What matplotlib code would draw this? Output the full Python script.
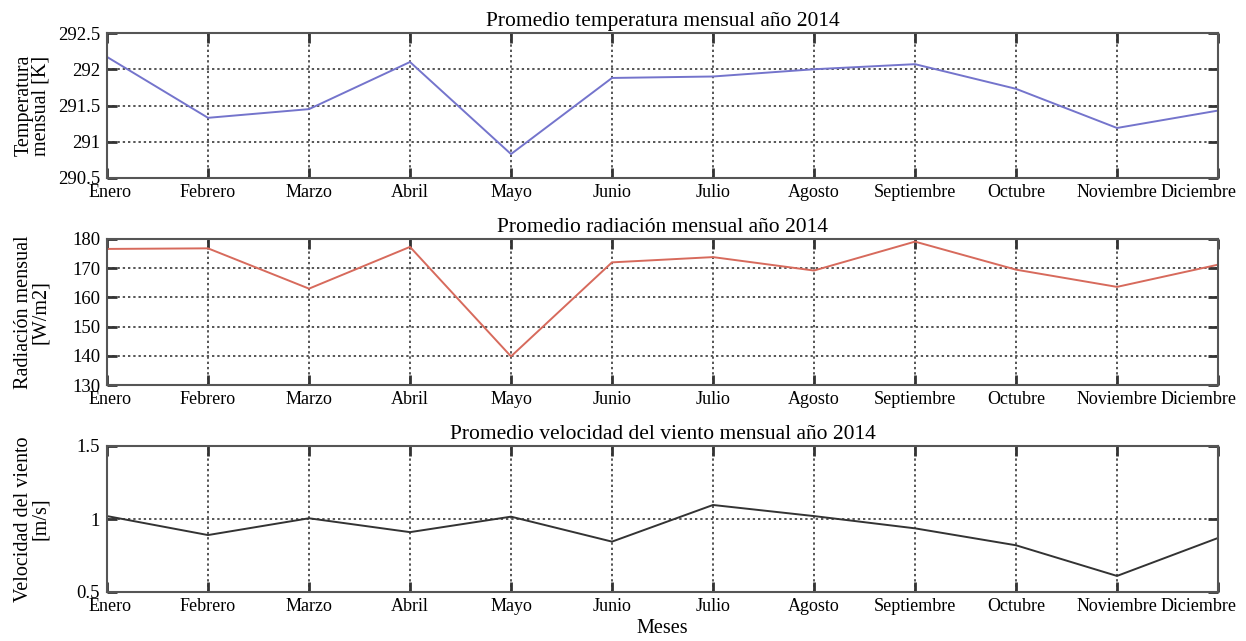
import matplotlib.pyplot as plt
from matplotlib.transforms import ScaledTranslation

plt.rcParams['font.family'] = ['Liberation Serif', 'DejaVu Serif']

meses = ['Enero', 'Febrero', 'Marzo', 'Abril', 'Mayo', 'Junio', 'Julio',
         'Agosto', 'Septiembre', 'Octubre', 'Noviembre', 'Diciembre']

temperatura = [292.17, 291.33, 291.45, 292.10, 290.83, 291.88, 291.90,
               292.00, 292.07, 291.73, 291.19, 291.43]
radiacion = [176.6, 176.8, 163.0, 177.3, 139.8, 172.0, 173.8,
             169.2, 179.1, 169.5, 163.6, 171.2]
viento = [1.02, 0.89, 1.005, 0.91, 1.016, 0.845, 1.096,
          1.02, 0.936, 0.82, 0.61, 0.87]

x = list(range(len(meses)))

fig = plt.figure(figsize=(12.46, 6.41), dpi=100)

# axes boxes in pixel coords of the reference (left, top, right, bottom)
W, H = 1246, 641
boxes = [(107, 33, 1218, 178), (107, 239, 1218, 385), (107, 446, 1218, 592)]

panels = [
    (temperatura, '#7474cc', 'Promedio temperatura mensual año 2014',
     'Temperatura\nmensual [K]', (290.5, 292.5), [290.5, 291, 291.5, 292, 292.5],
     ['290.5', '291', '291.5', '292', '292.5']),
    (radiacion, '#d76a5c', 'Promedio radiación mensual año 2014',
     'Radiación mensual\n[W/m2]', (130, 180), [130, 140, 150, 160, 170, 180],
     ['130', '140', '150', '160', '170', '180']),
    (viento, '#333333', 'Promedio velocidad del viento mensual año 2014',
     'Velocidad del viento\n[m/s]', (0.5, 1.5), [0.5, 1, 1.5],
     ['0.5', '1', '1.5']),
]

axes = []
for (l, t, r, b), (vals, col, title, ylab, ylim, yt, ytl) in zip(boxes, panels):
    ax = fig.add_axes([l / W, 1 - b / H, (r - l) / W, (b - t) / H])
    ax.plot(x, vals, color=col, linewidth=1.4)
    ax.set_xlim(0, 11)
    ax.set_ylim(*ylim)
    ax.set_xticks(x)
    ax.set_xticklabels(meses, fontsize=13)
    ax.set_yticks(yt)
    ax.set_yticklabels(ytl, fontsize=13.5)
    ax.tick_params(direction='in', length=7, width=2, color='#333333',
                   top=True, right=True)
    ax.tick_params(axis='x', pad=4)
    ax.tick_params(axis='y', pad=5)
    ax.grid(True, color='#555555', linestyle=(0, (1.2, 1.5)), linewidth=1.4)
    for s in ax.spines.values():
        s.set_color('#555555')
        s.set_linewidth(1.5)
    ax.set_title(title, fontsize=15.5, pad=5)
    ax.set_ylabel(ylab, fontsize=14.5, linespacing=0.85)
    ax.yaxis.set_label_coords(-0.051, 0.5)
    # last month label sits a bit left, as in the original
    lab = ax.get_xticklabels()
    lab[-1].set_transform(lab[-1].get_transform() +
                          ScaledTranslation(-0.19, 0, fig.dpi_scale_trans))
    lab[0].set_transform(lab[0].get_transform() +
                         ScaledTranslation(0.03, 0, fig.dpi_scale_trans))
    axes.append(ax)

axes[-1].set_xlabel('Meses', fontsize=14.5, labelpad=3)

fig.savefig('out.png', dpi=100)
